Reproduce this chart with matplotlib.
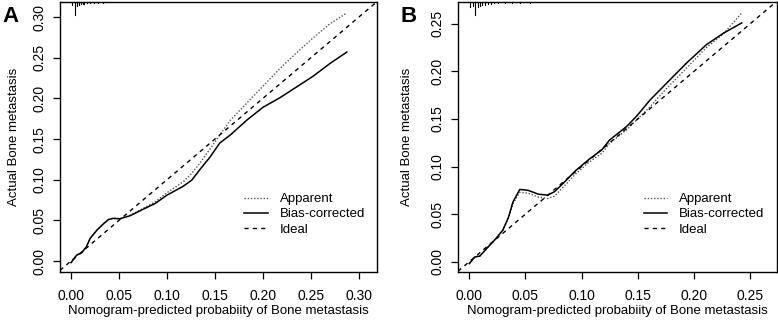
import numpy as np
import matplotlib
matplotlib.use("Agg")
import matplotlib.pyplot as plt

plt.rcParams['font.family'] = ['Liberation Sans', 'DejaVu Sans']

# ---- panel A data ----
xa = [0.0, 0.006, 0.011, 0.016, 0.020, 0.027, 0.034, 0.039, 0.044, 0.051, 0.0615,
      0.074, 0.088, 0.100, 0.117, 0.126, 0.134, 0.145, 0.155, 0.166, 0.183, 0.200,
      0.218, 0.235, 0.252, 0.270, 0.2875]
apparent_a = [-0.002, 0.0074, 0.010, 0.0176, 0.028, 0.038, 0.046, 0.051, 0.0525, 0.052,
              0.056, 0.064, 0.073, 0.084, 0.0975, 0.108, 0.120, 0.138, 0.155, 0.173,
              0.194, 0.215, 0.237, 0.256, 0.274, 0.292, 0.305]
bias_a = [-0.002, 0.0074, 0.010, 0.0176, 0.028, 0.038, 0.046, 0.051, 0.0525, 0.052,
          0.0557, 0.063, 0.071, 0.081, 0.092, 0.0996, 0.112, 0.128, 0.145, 0.155,
          0.173, 0.189, 0.201, 0.214, 0.227, 0.243, 0.257]
rug_xa = [0.001, 0.004, 0.006, 0.008, 0.010, 0.012, 0.014, 0.017, 0.020, 0.024, 0.028, 0.033]
rug_ha = [0.012, 0.048, 0.015, 0.010, 0.008, 0.007, 0.006, 0.005, 0.004, 0.004, 0.003, 0.003]
ticks_a = [0.00, 0.05, 0.10, 0.15, 0.20, 0.25, 0.30]

# ---- panel B data ----
xb = [0.0, 0.005, 0.0095, 0.017, 0.024, 0.030, 0.035, 0.039, 0.045, 0.0525, 0.0615,
      0.070, 0.076, 0.085, 0.094, 0.106, 0.118, 0.125, 0.140, 0.149, 0.161, 0.176,
      0.1936, 0.211, 0.226, 0.2426]
apparent_b = [-0.002, 0.005, 0.006, 0.0158, 0.0246, 0.0334, 0.046, 0.061, 0.073, 0.072,
              0.068, 0.0665, 0.069, 0.080, 0.0915, 0.104, 0.114, 0.1246, 0.1385, 0.149,
              0.163, 0.1825, 0.2036, 0.225, 0.239, 0.2615]
bias_b = [-0.002, 0.005, 0.006, 0.0158, 0.0246, 0.0334, 0.047, 0.063, 0.076, 0.075,
          0.071, 0.070, 0.0737, 0.084, 0.095, 0.107, 0.1176, 0.128, 0.142, 0.153,
          0.170, 0.188, 0.209, 0.228, 0.240, 0.251]
rug_xb = [0.001, 0.0033, 0.005, 0.0077, 0.0095, 0.011, 0.014, 0.0167, 0.019, 0.022,
          0.0255, 0.032, 0.038, 0.045, 0.054]
rug_hb = [0.018, 0.015, 0.048, 0.020, 0.015, 0.012, 0.010, 0.008, 0.006, 0.005,
          0.004, 0.004, 0.003, 0.003, 0.003]
ticks_b = [0.00, 0.05, 0.10, 0.15, 0.20, 0.25]

fig = plt.figure(figsize=(7.78, 3.27), dpi=100)
axA = fig.add_axes([60/778, 1-272/327, 317/778, 270/327])
axB = fig.add_axes([458/778, 1-272/327, 319/778, 270/327])

panels = [
    (axA, xa, apparent_a, bias_a, rug_xa, rug_ha, ticks_a, (-0.0115, 0.319), (-0.0135, 0.3186), "A", 2, -0.145),
    (axB, xb, apparent_b, bias_b, rug_xb, rug_hb, ticks_b, (-0.0100, 0.274), (-0.0108, 0.273), "B", 400, -0.16),
]

for ax, x, app, bias, rx, rh, ticks, xl, yl, letter, lx, ylab_x in panels:
    ax.plot(x, app, linestyle=(0, (1, 1.3)), color='#555555', lw=1.0, label='Apparent')
    ax.plot(x, bias, '-', color='black', lw=1.1, label='Bias-corrected')
    ax.axline((0, 0), (1, 1), linestyle=(0, (3, 3)), color='black', lw=1.0, label='Ideal')
    # rug of predicted values along the top
    for xx, hh in zip(rx, rh):
        ax.plot([xx, xx], [1, 1 - hh], color='black', lw=0.8,
                transform=ax.get_xaxis_transform(), clip_on=False)
    ax.set_xlim(*xl)
    ax.set_ylim(*yl)
    ax.set_xticks(ticks)
    ax.set_yticks(ticks)
    ax.set_xticklabels(['%.2f' % t for t in ticks])
    ax.set_yticklabels(['%.2f' % t for t in ticks], rotation=90, va='center')
    ax.tick_params(direction='out', length=5, width=0.9, labelsize=10)
    ax.tick_params(axis='x', pad=7)
    ax.tick_params(axis='y', pad=5)
    for s in ax.spines.values():
        s.set_linewidth(1.0)
    ax.set_xlabel('Nomogram-predicted probabiity of Bone metastasis', fontsize=9.5)
    ax.set_ylabel('Actual Bone metastasis', fontsize=9.5)
    ax.xaxis.set_label_coords(0.5, -0.145)
    ax.yaxis.set_label_coords(ylab_x, 0.5)
    ax.xaxis.label.set_va('center')
    ax.yaxis.label.set_va('center')
    ax.legend(loc='upper left', bbox_to_anchor=(0.565, 0.312), frameon=False, fontsize=9.5,
              handlelength=1.8, handletextpad=0.9, labelspacing=0.22, borderaxespad=0)
    fig.text(lx/778, 1-17/327, letter, fontsize=16, fontweight='bold', va='center', ha='left')

fig.savefig('out.png', dpi=100)
